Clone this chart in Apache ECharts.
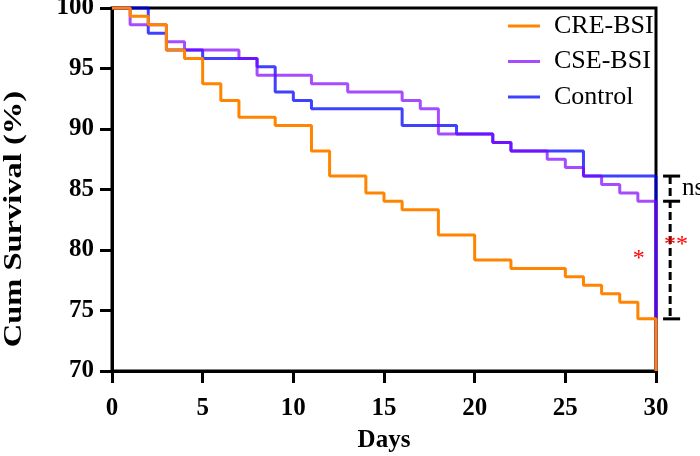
<!DOCTYPE html>
<html>
<head>
<meta charset="utf-8">
<script src="https://cdn.jsdelivr.net/npm/echarts@6/dist/echarts.min.js"></script>
<style>
  html, body {margin: 0; padding: 0; background: #fff;}
  #chart {width: 700px; height: 456px;}
</style>
</head>
<body>
<div id="chart"></div>
<script>
// Kaplan-Meier steps: [day, cum survival %]
let creDays = [0, 1, 2, 3, 4, 5, 6, 7, 9, 11, 12, 14, 15, 16, 18, 20, 22, 25, 26, 27, 28, 29, 30]
let creSurv = [100, 99.31, 98.61, 96.53, 95.83, 93.75, 92.36, 90.97, 90.28, 88.19, 86.11, 84.72, 84.03, 83.33, 81.25, 79.17, 78.47, 77.78, 77.08, 76.39, 75.69, 74.31, 70]

let cseDays = [0, 1, 3, 4, 7, 8, 11, 13, 16, 17, 18, 21, 22, 24, 25, 26, 27, 28, 29, 30]
let cseSurv = [100, 98.61, 97.22, 96.53, 95.83, 94.44, 93.75, 93.06, 92.36, 91.67, 89.58, 88.89, 88.19, 87.5, 86.81, 86.11, 85.42, 84.72, 84.03, 70]

let ctrlDays = [0, 2, 3, 5, 8, 9, 10, 11, 16, 19, 21, 22, 26, 30]
let ctrlSurv = [100, 97.92, 96.53, 95.83, 95.14, 93.06, 92.36, 91.67, 90.28, 89.58, 88.89, 88.19, 86.11, 70]

let seriesNames = ['CRE-BSI', 'CSE-BSI', 'Control']

// comparison brackets: end values of each curve before day 30
let ctrlEnd = 86.11, cseEnd = 84.03, creEnd = 74.31

const serif = '"Liberation Serif", "Times New Roman", serif'
const pair = (xs, ys) => xs.map((x, i) => [x, ys[i]])

function stepSeries(name, data, color, z){
  return {
    name: name,
    type: 'line',
    step: 'end',
    data: data,
    symbol: 'none',
    clip: false,
    z: z,
    color: color,
    lineStyle: {width: 3, color: color}
  }
}

let chart = echarts.init(document.getElementById('chart'))
chart.setOption({
  animation: false,
  grid: {
    left: 112, right: 44, top: 8, bottom: 85,
    show: true, borderColor: '#000', borderWidth: 3,
    outerBoundsMode: 'none'
  },
  legend: {
    data: seriesNames,
    orient: 'vertical',
    left: 503, top: 8,
    icon: 'rect',
    itemWidth: 32, itemHeight: 3,
    itemGap: 9.5,
    textStyle: {fontFamily: serif, fontSize: 26, lineHeight: 24, color: '#000', padding: [0, 0, 0, 9]}
  },
  xAxis: {
    type: 'value', min: 0, max: 30, interval: 5,
    name: 'Days', nameLocation: 'middle', nameGap: 57,
    nameTextStyle: {fontFamily: serif, fontSize: 25, fontWeight: 'bold', color: '#000'},
    axisLine: {lineStyle: {color: '#000', width: 3}},
    axisTick: {length: 12, lineStyle: {width: 3, color: '#000'}},
    axisLabel: {margin: 25, fontFamily: serif, fontSize: 25, fontWeight: 'bold', color: '#000'},
    splitLine: {show: false}
  },
  yAxis: {
    type: 'value', min: 70, max: 100, interval: 5,
    axisLine: {show: true, lineStyle: {color: '#000', width: 3}},
    axisTick: {show: true, length: 12, lineStyle: {width: 3, color: '#000'}},
    axisLabel: {margin: 18, fontFamily: serif, fontSize: 25, fontWeight: 'bold', color: '#000'},
    splitLine: {show: false}
  },
  series: [
    stepSeries('Control', pair(ctrlDays, ctrlSurv), 'rgba(0,0,255,0.75)', 2),
    stepSeries('CSE-BSI', pair(cseDays, cseSurv), 'rgba(128,0,255,0.7)', 3),
    stepSeries('CRE-BSI', pair(creDays, creSurv), '#ff8400', 4)
  ]
})

// brackets and stars, placed in data space just right of day 30
let px = (d, v) => chart.convertToPixel({gridIndex: 0}, [d, v])
let capL = 30.39, capR = 31.33, mid = 30.78
let yTop = px(mid, ctrlEnd), yMid = px(mid, cseEnd), yBot = px(mid, creEnd)
let cap = (v) => {
  let a = px(capL, v), b = px(capR, v)
  return {type: 'line', shape: {x1: a[0], y1: a[1], x2: b[0], y2: b[1]}, style: {stroke: '#000', lineWidth: 3}, z: 10}
}
let titleY = px(0, 82.55)

chart.setOption({
  graphic: [
    {type: 'line', shape: {x1: yTop[0], y1: yTop[1], x2: yBot[0], y2: yBot[1]},
      style: {stroke: '#000', lineWidth: 3, lineDash: [8, 4]}, z: 10},
    cap(ctrlEnd), cap(cseEnd), cap(creEnd),
    {type: 'text', x: px(30.83, 0)[0] + 11, y: (yTop[1] + yMid[1]) / 2,
      style: {text: 'ns', font: '25px ' + serif, fill: '#000', textVerticalAlign: 'middle'}, z: 10},
    {type: 'text', x: px(31.1, 0)[0], y: px(0, 80.45)[1],
      style: {text: '**', font: '24px ' + serif, fill: '#ff0000', textAlign: 'center', textVerticalAlign: 'middle'}, z: 10},
    {type: 'text', x: px(29.05, 0)[0], y: px(0, 79.25)[1],
      style: {text: '*', font: '24px ' + serif, fill: '#ff0000', textAlign: 'center', textVerticalAlign: 'middle'}, z: 10},
    {type: 'text', x: 14, y: titleY[1], rotation: Math.PI / 2, scaleX: 1.25,
      style: {text: 'Cum Survival (%)', font: 'bold 26px ' + serif, fill: '#000', textAlign: 'center', textVerticalAlign: 'middle'}, z: 10}
  ]
})
</script>
</body>
</html>
